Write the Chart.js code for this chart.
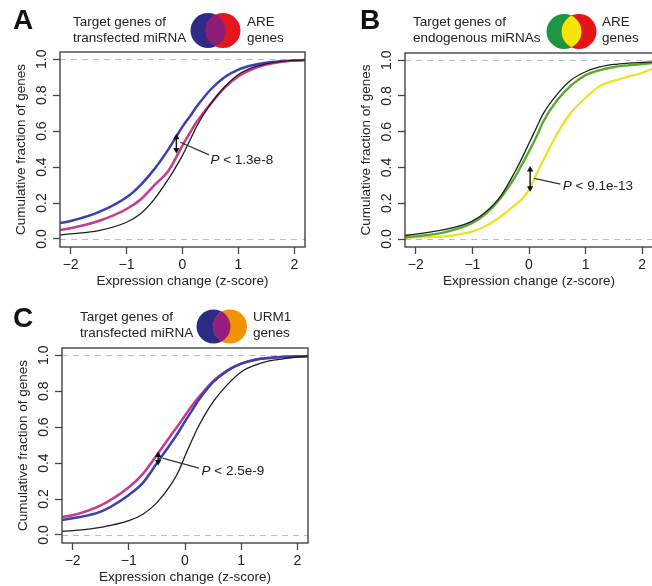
<!DOCTYPE html>
<html>
<head>
<meta charset="utf-8">
<script src="https://cdn.jsdelivr.net/npm/chart.js@4.4.0/dist/chart.umd.min.js"></script>
<style>
html, body { margin: 0; padding: 0; background: #fff; overflow: hidden; width: 652px; height: 586px; }
body { position: relative; font-family: "Liberation Sans", Arial, sans-serif; color: #222; }
canvas { position: absolute; }
.lab { position: absolute; font-weight: bold; font-size: 28px; line-height: 28px; color: #111; }
.hd { position: absolute; font-size: 13.5px; line-height: 16.3px; white-space: nowrap; color: #222; }
svg { position: absolute; left: 0; top: 0; }
</style>
</head>
<body>
<canvas id="chartA" width="320" height="292" style="left:0;top:0"></canvas>
<canvas id="chartB" width="320" height="292" style="left:345px;top:0"></canvas>
<canvas id="chartC" width="320" height="292" style="left:2px;top:296px"></canvas>

<div class="lab" style="left:13px;top:6px">A</div>
<div class="hd" style="left:73px;top:13.6px">Target genes of<br>transfected miRNA</div>
<div class="hd" style="left:247px;top:13.6px">ARE<br>genes</div>

<div class="lab" style="left:360px;top:6px">B</div>
<div class="hd" style="left:413px;top:13.6px">Target genes of<br>endogenous miRNAs</div>
<div class="hd" style="left:602px;top:13.6px">ARE<br>genes</div>

<div class="lab" style="left:13px;top:304px">C</div>
<div class="hd" style="left:80px;top:308.5px">Target genes of<br>transfected miRNA</div>
<div class="hd" style="left:253px;top:308.5px">URM1<br>genes</div>

<svg width="652" height="586">
  <defs>
    <clipPath id="clipA"><circle cx="208" cy="30.5" r="17.5"/></clipPath>
    <clipPath id="clipB"><circle cx="564" cy="31.5" r="17.5"/></clipPath>
    <clipPath id="clipC"><circle cx="213.5" cy="326.5" r="17"/></clipPath>
  </defs>
  <circle cx="208" cy="30.5" r="17.5" fill="#2e2b87"/>
  <circle cx="223" cy="30.5" r="17.5" fill="#e5161e"/>
  <circle cx="223" cy="30.5" r="17.5" fill="#8e1c79" clip-path="url(#clipA)"/>

  <circle cx="564" cy="31.5" r="17.5" fill="#1c9640"/>
  <circle cx="579" cy="31.5" r="17.5" fill="#e3151b"/>
  <circle cx="579" cy="31.5" r="17.5" fill="#f4e600" clip-path="url(#clipB)"/>

  <circle cx="213.5" cy="326.5" r="17" fill="#2e2b87"/>
  <circle cx="230" cy="326.5" r="17" fill="#f39200"/>
  <circle cx="230" cy="326.5" r="17" fill="#941f80" clip-path="url(#clipC)"/>
</svg>

<script>
// x positions (z-score) where the curves were read
const zGrid = [-2.2, -2, -1.5, -1, -0.75, -0.5, -0.25, -0.12, 0, 0.15, 0.25, 0.5, 0.75, 1, 1.25, 1.5, 1.75, 2, 2.2];

// A: transfected miRNA targets vs ARE genes
const aAll     = [0.022, 0.028, 0.046, 0.093, 0.14, 0.223, 0.335, 0.40, 0.465, 0.56, 0.625, 0.75, 0.845, 0.915, 0.953, 0.974, 0.986, 0.993, 0.995];
const aTargets = [0.089, 0.10, 0.149, 0.232, 0.30, 0.39, 0.50, 0.565, 0.625, 0.69, 0.735, 0.83, 0.90, 0.942, 0.966, 0.98, 0.988, 0.993, 0.995];
const aOverlap = [0.05, 0.06, 0.10, 0.167, 0.22, 0.30, 0.38, 0.45, 0.52, 0.60, 0.65, 0.75, 0.84, 0.905, 0.945, 0.97, 0.985, 0.993, 0.995];

// B: endogenous miRNA targets vs ARE genes
const bAll     = [0.02, 0.028, 0.052, 0.10, 0.155, 0.24, 0.375, 0.455, 0.535, 0.635, 0.70, 0.81, 0.89, 0.935, 0.962, 0.976, 0.983, 0.987, 0.99];
const bTargets = [0.01, 0.015, 0.037, 0.09, 0.145, 0.23, 0.345, 0.42, 0.49, 0.585, 0.656, 0.777, 0.86, 0.916, 0.944, 0.962, 0.971, 0.978, 0.985];
const bOverlap = [0.006, 0.01, 0.015, 0.043, 0.075, 0.126, 0.19, 0.225, 0.275, 0.375, 0.44, 0.59, 0.71, 0.79, 0.855, 0.885, 0.908, 0.93, 0.955];

// C: transfected miRNA targets vs URM1 genes
const cAll     = [0.02, 0.024, 0.043, 0.08, 0.115, 0.18, 0.28, 0.35, 0.44, 0.545, 0.61, 0.74, 0.835, 0.907, 0.945, 0.968, 0.98, 0.99, 0.993];
const cTargets = [0.084, 0.093, 0.13, 0.223, 0.29, 0.40, 0.51, 0.57, 0.632, 0.705, 0.753, 0.85, 0.913, 0.953, 0.975, 0.985, 0.99, 0.993, 0.995];
const cOverlap = [0.10, 0.11, 0.165, 0.266, 0.34, 0.445, 0.555, 0.61, 0.665, 0.73, 0.768, 0.855, 0.915, 0.953, 0.975, 0.985, 0.99, 0.993, 0.995];

const xTicks = [-2, -1, 0, 1, 2];
const yTicks = [0, 0.2, 0.4, 0.6, 0.8, 1];
const pLabels = ['P < 1.3e-8', 'P < 9.1e-13', 'P < 2.5e-9'];

const FONT = '"Liberation Sans", Arial, sans-serif';

// box, dashed reference lines, arrow and p-value note
const decor = {
    id: 'decor',
    beforeDatasetsDraw(chart, args, o) {
        const { ctx, chartArea: a, scales: { y } } = chart;
        ctx.save();
        ctx.strokeStyle = '#bdbdbd';
        ctx.lineWidth = 1.2;
        ctx.setLineDash([6, 5]);
        [0, 1].forEach(v => {
            const py = Math.round(y.getPixelForValue(v)) + 0.5;
            ctx.beginPath();
            ctx.moveTo(a.left, py);
            ctx.lineTo(a.right, py);
            ctx.stroke();
        });
        ctx.restore();
    },
    afterDatasetsDraw(chart, args, o) {
        const { ctx, chartArea: a, scales: { x, y } } = chart;
        ctx.save();
        ctx.strokeStyle = '#444';
        ctx.lineWidth = 1.4;
        ctx.strokeRect(a.left, a.top, a.right - a.left, a.bottom - a.top);

        // double arrow
        const ax = x.getPixelForValue(o.arrow.x);
        const y1 = y.getPixelForValue(o.arrow.y1);
        const y2 = y.getPixelForValue(o.arrow.y2);
        ctx.strokeStyle = '#111';
        ctx.fillStyle = '#111';
        ctx.lineWidth = 1.4;
        ctx.beginPath();
        ctx.moveTo(ax, y1 + 4);
        ctx.lineTo(ax, y2 - 4);
        ctx.stroke();
        ctx.beginPath();
        ctx.moveTo(ax, y1); ctx.lineTo(ax - 3.2, y1 + 5.5); ctx.lineTo(ax + 3.2, y1 + 5.5); ctx.closePath();
        ctx.fill();
        ctx.beginPath();
        ctx.moveTo(ax, y2); ctx.lineTo(ax - 3.2, y2 - 5.5); ctx.lineTo(ax + 3.2, y2 - 5.5); ctx.closePath();
        ctx.fill();

        // leader line
        ctx.strokeStyle = '#333';
        ctx.lineWidth = 1.3;
        ctx.beginPath();
        ctx.moveTo(x.getPixelForValue(o.lead.x1), y.getPixelForValue(o.lead.y1));
        ctx.lineTo(x.getPixelForValue(o.lead.x2), y.getPixelForValue(o.lead.y2));
        ctx.stroke();

        // label, with italic P
        const tx = x.getPixelForValue(o.text.x);
        const ty = y.getPixelForValue(o.text.y);
        ctx.fillStyle = '#222';
        ctx.textBaseline = 'middle';
        ctx.textAlign = 'left';
        ctx.font = 'italic 13.5px ' + FONT;
        ctx.fillText('P', tx, ty);
        const w = ctx.measureText('P').width;
        ctx.font = '13.5px ' + FONT;
        ctx.fillText(o.text.label.slice(1), tx + w, ty);
        ctx.restore();
    }
};

function makePanel(id, series, ann, pad) {
    const ctx = document.getElementById(id).getContext('2d');
    return new Chart(ctx, {
        type: 'line',
        data: {
            datasets: series.map(s => ({
                data: zGrid.map((z, i) => ({ x: z, y: s.values[i] })),
                borderColor: s.color,
                borderWidth: s.width,
                pointRadius: 0,
                fill: false,
                cubicInterpolationMode: 'monotone',
                order: s.order
            }))
        },
        options: {
            responsive: false,
            animation: false,
            devicePixelRatio: 1,
            layout: { padding: pad },
            plugins: {
                legend: { display: false },
                tooltip: { enabled: false },
                decor: ann
            },
            scales: {
                x: {
                    type: 'linear',
                    min: -2.19,
                    max: 2.19,
                    afterBuildTicks: s => { s.ticks = xTicks.map(v => ({ value: v })); },
                    afterFit: s => { s.height = 45; },
                    border: { display: false },
                    grid: { drawOnChartArea: false, drawTicks: true, tickLength: 7, tickColor: '#444', tickWidth: 1.3 },
                    ticks: {
                        color: '#222',
                        padding: 3,
                        maxRotation: 0,
                        font: { size: 14, family: FONT },
                        callback: v => String(v).replace('-', '\u2212')
                    },
                    title: {
                        display: true,
                        text: 'Expression change (z-score)',
                        color: '#222',
                        font: { size: 13.5, family: FONT },
                        padding: { top: 0, bottom: 3 }
                    }
                },
                y: {
                    type: 'linear',
                    min: -0.0445,
                    max: 1.04,
                    afterBuildTicks: s => { s.ticks = yTicks.map(v => ({ value: v })); },
                    afterFit: s => { s.width = 60; },
                    border: { display: false },
                    grid: { drawOnChartArea: false, drawTicks: true, tickLength: 7, tickColor: '#444', tickWidth: 1.3 },
                    ticks: {
                        color: '#222',
                        padding: 1.5,
                        minRotation: 90,
                        maxRotation: 90,
                        crossAlign: 'center',
                        font: { size: 14, family: FONT },
                        callback: v => Number(v).toFixed(1)
                    },
                    title: {
                        display: true,
                        text: 'Cumulative fraction of genes',
                        color: '#222',
                        font: { size: 13.5, family: FONT },
                        padding: { top: 13.5, bottom: 0 }
                    }
                }
            }
        },
        plugins: [decor]
    });
}

document.addEventListener('DOMContentLoaded', function() {
    makePanel('chartA', [
        { values: aAll, color: '#1e1e1e', width: 1.3, order: 1 },
        { values: aOverlap, color: '#c8388e', width: 2.5, order: 2 },
        { values: aTargets, color: '#3a3fb4', width: 2.5, order: 3 }
    ], {
        arrow: { x: -0.11, y1: 0.585, y2: 0.475 },
        lead: { x1: -0.04, y1: 0.538, x2: 0.475, y2: 0.468 },
        text: { x: 0.5, y: 0.44, label: pLabels[0] }
    }, { top: 52, left: 0, right: 15, bottom: 0 });

    makePanel('chartB', [
        { values: bAll, color: '#1e1e1e', width: 1.3, order: 1 },
        { values: bTargets, color: '#5aab2d', width: 2.4, order: 2 },
        { values: bOverlap, color: '#eee21c', width: 2.2, order: 3 }
    ], {
        arrow: { x: 0.02, y1: 0.408, y2: 0.264 },
        lead: { x1: 0.094, y1: 0.339, x2: 0.554, y2: 0.307 },
        text: { x: 0.596, y: 0.296, label: pLabels[1] }
    }, { top: 53, left: 0, right: 12, bottom: 0 });

    makePanel('chartC', [
        { values: cAll, color: '#1e1e1e', width: 1.3, order: 1 },
        { values: cTargets, color: '#3a3fb4', width: 2.5, order: 2 },
        { values: cOverlap, color: '#c8388e', width: 2.5, order: 3 }
    ], {
        arrow: { x: -0.478, y1: 0.465, y2: 0.387 },
        lead: { x1: -0.40, y1: 0.427, x2: 0.248, y2: 0.372 },
        text: { x: 0.295, y: 0.353, label: pLabels[2] }
    }, { top: 52, left: 0, right: 14, bottom: 0 });
});
</script>
</body>
</html>
